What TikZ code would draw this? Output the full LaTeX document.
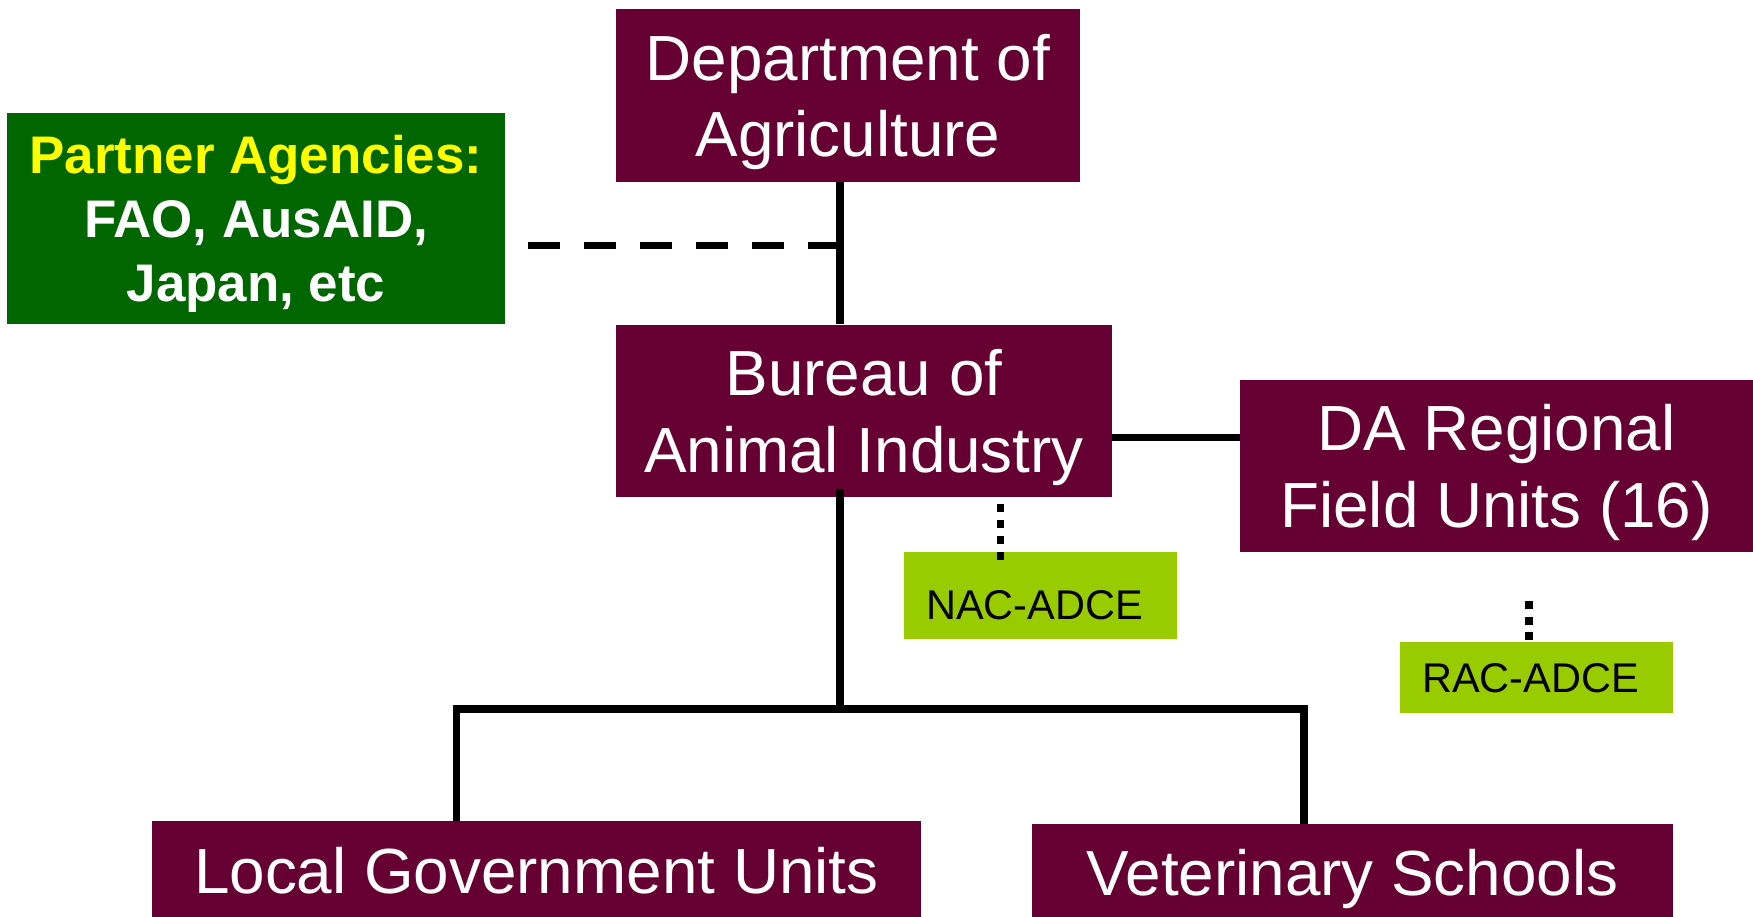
\documentclass[tikz,border=0pt]{standalone}
\usepackage{fontspec}
\setmainfont{Liberation Sans}
\definecolor{maroon}{HTML}{660033}
\definecolor{darkgreen}{HTML}{006600}
\definecolor{lightgreen}{HTML}{99CC00}
\definecolor{txtyellow}{HTML}{FFFF00}
\begin{document}
\begin{tikzpicture}[x=1pt,y=-1pt,
  box/.style={rectangle, inner sep=0pt, align=center, text=white, fill=maroon, text depth=0pt},
  bigtext/.style={font=\fontsize{63.8}{76.5}\selectfont},
  smalltext/.style={font=\fontsize{41.5}{50}\selectfont},
  greenbox/.style={rectangle, inner sep=0pt, align=center, text=black, fill=lightgreen, text depth=0pt},
  conn/.style={line width=7.5pt},
  dotline/.style={conn, dash pattern=on 8pt off 8pt},
]
\useasboundingbox (0,0) rectangle (1753,917);
\clip (0,0) rectangle (1753,917);

% boxes
\node[box, bigtext, minimum width=464pt, minimum height=173pt, text height=122.2pt] (dept) at (848,95.5) {Department of\\Agriculture};
\node[box, fill=darkgreen, font=\bfseries\fontsize{52.9}{64}\selectfont, minimum width=498pt, minimum height=211pt, text height=165.9pt] (partner) at (256,218.5) {{\color{txtyellow}Partner Agencies:}\\FAO, AusAID,\\Japan, etc};
\node[box, bigtext, minimum width=496pt, minimum height=172.7pt, text height=122.2pt] (bai) at (864,411) {Bureau of\\Animal Industry};
\node[box, bigtext, minimum width=513pt, minimum height=172pt, text height=122.2pt] (da) at (1496.5,466) {DA Regional\\Field Units (16)};
\node[greenbox, smalltext, minimum width=273pt, minimum height=86.6pt, text height=48pt] (nac) at (1040.5,595.3) {NAC-ADCE\kern12pt};
\node[greenbox, smalltext, minimum width=273pt, minimum height=70.7pt, text height=29.7pt] (rac) at (1536.5,677.4) {RAC-ADCE\kern12pt};
\node[box, bigtext, minimum width=768.6pt, minimum height=99pt, text height=45.7pt] (lgu) at (536.3,870.5) {Local Government Units};
\node[box, bigtext, minimum width=641pt, minimum height=98pt, text height=45.7pt] (vet) at (1352.5,873) {Veterinary Schools};

% connectors
\coordinate (trunk) at (840,0);
\draw[conn] (dept.south -| trunk) -- (bai.north -| trunk);
\coordinate (pj) at (840,245.5);
\draw[conn, dash pattern=on 32pt off 24pt, shorten <=23pt] (partner.east |- pj) -- (pj);
\coordinate (bd) at (0,437.5);
\draw[conn] (bai.east |- bd) -- (da.west |- bd);
\coordinate (bus) at (0,709);
\draw[conn, shorten <=-9pt] (bai.south -| trunk) -- (bus -| trunk);
\coordinate (lx) at (456.5,0);
\coordinate (rx) at (1304,0);
\draw[conn] (lgu.north -| lx) -- (bus -| lx) -- (bus -| rx) -- (vet.north -| rx);
\coordinate (nx) at (1000.5,0);
\draw[dotline, shorten <=6pt, shorten >=-8pt] (bai.south -| nx) -- (nac.north -| nx);
\coordinate (rdx) at (1529,0);
\draw[dotline, dash pattern=on 8pt off 7.5pt, shorten <=49pt, shorten >=2pt] (da.south -| rdx) -- (rac.north -| rdx);
\end{tikzpicture}
\end{document}
